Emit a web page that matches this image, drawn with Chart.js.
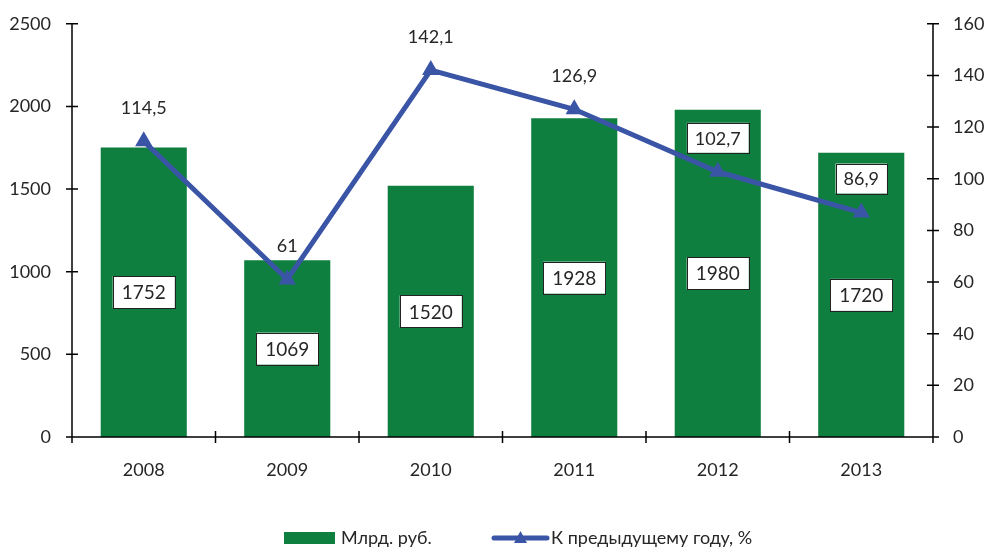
<!DOCTYPE html>
<html>
<head>
<meta charset="utf-8">
<script src="https://cdn.jsdelivr.net/npm/chart.js@4.4.1/dist/chart.umd.min.js"></script>
<style>
html,body{margin:0;padding:0;background:#fff;}
#wrap{width:988px;height:547px;position:relative;}
</style>
</head>
<body>
<div id="wrap"><canvas id="c" width="988" height="547"></canvas></div>
<script>
const categories = ['2008','2009','2010','2011','2012','2013'];
const rubValues = [1752, 1069, 1520, 1928, 1980, 1720];
const pctValues = [114.5, 61, 142.1, 126.9, 102.7, 86.9];
const leftTicks = [0, 500, 1000, 1500, 2000, 2500];
const rightTicks = [0, 20, 40, 60, 80, 100, 120, 140, 160];
const seriesNames = ['Млрд. руб.', 'К предыдущему году, %'];

const GREEN = '#0f7f3f';
const BLUE = '#3a54a6';
const FONT = 'Lato, "Open Sans", sans-serif';
const fmt = v => String(v).replace('.', ',');

const decor = {
  id: 'decor',
  afterDatasetsDraw(chart) {
    const ctx = chart.ctx;
    const ca = chart.chartArea;
    const yl = chart.scales.y, yr = chart.scales.y1;
    ctx.save();
    ctx.strokeStyle = '#000';
    ctx.lineWidth = 1.5;
    ctx.beginPath();
    ctx.moveTo(ca.left, ca.top); ctx.lineTo(ca.left, ca.bottom);
    ctx.moveTo(ca.right, ca.top); ctx.lineTo(ca.right, ca.bottom);
    ctx.moveTo(ca.left, ca.bottom); ctx.lineTo(ca.right, ca.bottom);
    leftTicks.forEach(v => { const y = yl.getPixelForValue(v); ctx.moveTo(ca.left - 6, y); ctx.lineTo(ca.left + 6, y); });
    rightTicks.forEach(v => { const y = yr.getPixelForValue(v); ctx.moveTo(ca.right - 6, y); ctx.lineTo(ca.right + 6, y); });
    const n = categories.length;
    for (let i = 0; i <= n; i++) {
      const x = ca.left + i * (ca.right - ca.left) / n;
      ctx.moveTo(x, ca.bottom - 6); ctx.lineTo(x, ca.bottom + 6);
    }
    ctx.stroke();

    const barMeta = chart.getDatasetMeta(0);
    ctx.font = '19px ' + FONT;
    ctx.textAlign = 'center';
    ctx.textBaseline = 'middle';
    barMeta.data.forEach((bar, i) => {
      const cy = (bar.y + bar.base) / 2;
      const t = fmt(rubValues[i]);
      const w = ctx.measureText(t).width + 18, h = 32;
      ctx.fillStyle = '#fff';
      ctx.fillRect(bar.x - w / 2, cy - h / 2, w, h);
      ctx.strokeStyle = '#222';
      ctx.lineWidth = 1;
      ctx.strokeRect(Math.round(bar.x - w / 2) + 0.5, Math.round(cy - h / 2) + 0.5, Math.round(w), h);
      ctx.fillStyle = '#262626';
      ctx.fillText(t, bar.x, cy + 1);
    });

    const lineMeta = chart.getDatasetMeta(1);
    ctx.font = '18px ' + FONT;
    lineMeta.data.forEach((pt, i) => {
      const cy = pt.y - 34;
      const t = fmt(pctValues[i]);
      const w = ctx.measureText(t).width + 16, h = 30;
      const bar = barMeta.data[i];
      const overlaps = (cy + 8) > bar.y;
      if (overlaps) {
        ctx.fillStyle = '#fff';
        ctx.fillRect(pt.x - w / 2, cy - h / 2, w, h);
        ctx.strokeStyle = '#222';
        ctx.lineWidth = 1;
        ctx.strokeRect(Math.round(pt.x - w / 2) + 0.5, Math.round(cy - h / 2) + 0.5, Math.round(w), h);
      }
      ctx.fillStyle = '#262626';
      ctx.fillText(t, pt.x, cy + 1);
    });

    const ly = 538;
    ctx.fillStyle = GREEN;
    ctx.fillRect(284, 532, 51, 12);
    ctx.fillStyle = '#262626';
    ctx.font = '18px ' + FONT;
    ctx.textAlign = 'left';
    ctx.fillText(seriesNames[0], 341, ly);
    ctx.strokeStyle = BLUE;
    ctx.lineWidth = 5;
    ctx.lineCap = 'round';
    ctx.beginPath(); ctx.moveTo(494, ly); ctx.lineTo(547, ly); ctx.stroke();
    ctx.fillStyle = BLUE;
    ctx.beginPath(); ctx.moveTo(520.5, ly - 7); ctx.lineTo(527, ly + 5); ctx.lineTo(514, ly + 5); ctx.closePath(); ctx.fill();
    ctx.fillStyle = '#262626';
    ctx.fillText(seriesNames[1], 551, ly);
    ctx.restore();
  }
};

new Chart(document.getElementById('c'), {
  data: {
    labels: categories,
    datasets: [
      {
        type: 'bar',
        label: seriesNames[0],
        data: rubValues,
        backgroundColor: GREEN,
        yAxisID: 'y',
        categoryPercentage: 1,
        barPercentage: 0.6,
        order: 2
      },
      {
        type: 'line',
        label: seriesNames[1],
        data: pctValues,
        borderColor: BLUE,
        backgroundColor: BLUE,
        borderWidth: 5,
        pointStyle: 'triangle',
        pointRadius: 10,
        pointBorderWidth: 0,
        yAxisID: 'y1',
        order: 1
      }
    ]
  },
  options: {
    responsive: false,
    animation: false,
    devicePixelRatio: 1,
    layout: { padding: { top: 12, bottom: 70, left: 0, right: 0 } },
    plugins: { legend: { display: false }, tooltip: { enabled: false } },
    scales: {
      x: {
        grid: { display: false },
        border: { display: false },
        ticks: { color: '#262626', font: { family: FONT, size: 18 }, padding: 14, maxRotation: 0 },
        afterFit(s) { s.height = 40; }
      },
      y: {
        position: 'left',
        min: 0, max: 2500,
        grid: { display: false },
        border: { display: false },
        ticks: { stepSize: 500, color: '#262626', font: { family: FONT, size: 18 }, padding: 13, callback: v => String(v) },
        afterFit(s) { s.width = 72; }
      },
      y1: {
        position: 'right',
        min: 0, max: 160,
        grid: { display: false },
        border: { display: false },
        ticks: { stepSize: 20, color: '#262626', font: { family: FONT, size: 18 }, padding: 12, callback: v => String(v) },
        afterFit(s) { s.width = 55; }
      }
    }
  },
  plugins: [decor]
});
</script>
</body>
</html>
